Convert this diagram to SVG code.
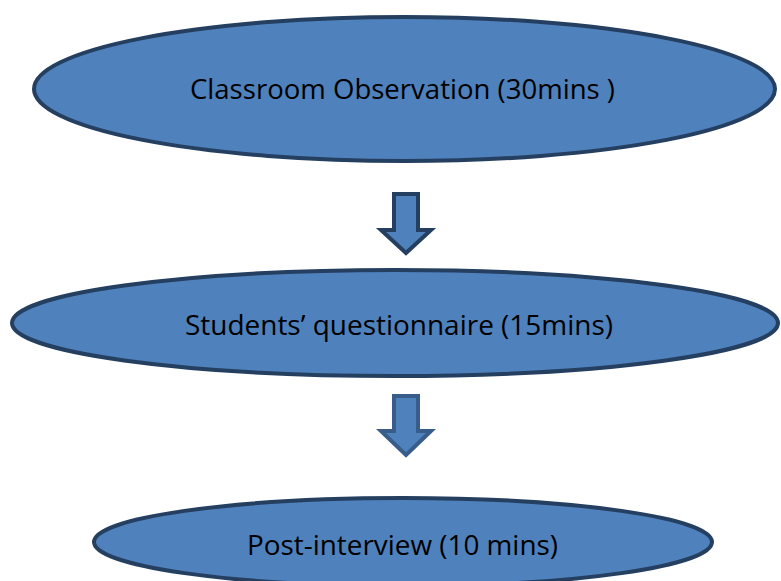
<svg xmlns="http://www.w3.org/2000/svg" width="781" height="581" viewBox="0 0 781 581">
  <style>
    .stage { fill: #4f81bd; stroke: #243f60; stroke-width: 4; }
    .label { font-family: "Open Sans", "Noto Sans", "Liberation Sans", sans-serif; font-size: 27px; fill: #000000; }
    .arrow-dark { fill: #4f81bd; stroke: #243f60; stroke-width: 4; stroke-linejoin: miter; }
    .arrow-light { fill: #4f81bd; stroke: #385d8a; stroke-width: 4; stroke-linejoin: miter; }
  </style>
  <rect width="781" height="581" fill="#ffffff"/>

  <g id="observation">
    <ellipse class="stage" cx="404.5" cy="89" rx="370.5" ry="72"/>
    <text class="label" x="190" y="99" textLength="425" lengthAdjust="spacingAndGlyphs">Classroom Observation (30mins )</text>
  </g>

  <g id="questionnaire">
    <ellipse class="stage" cx="395" cy="323" rx="383" ry="53"/>
    <text class="label" x="185" y="335" textLength="428" lengthAdjust="spacingAndGlyphs">Students’ questionnaire (15mins)</text>
  </g>

  <g id="post-interview">
    <ellipse class="stage" cx="403" cy="542" rx="309" ry="44"/>
    <text class="label" x="247" y="555" textLength="311" lengthAdjust="spacingAndGlyphs">Post-interview (10 mins)</text>
  </g>

  <g id="connectors">
    <path class="arrow-dark" d="M394,194 H418 V230 H431 L406,253 L381,230 H394 Z"/>
    <path class="arrow-light" d="M394,396 H418 V431 H431 L406,455 L381,431 H394 Z"/>
  </g>
</svg>
